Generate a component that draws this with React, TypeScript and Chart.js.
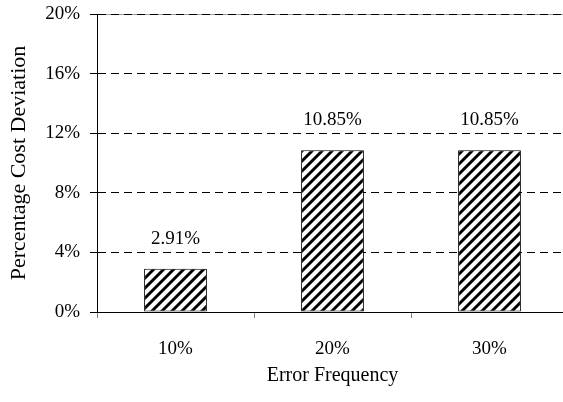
import React, { useEffect, useRef } from "react";
import { Chart, registerables } from "chart.js";

Chart.register(...registerables);

const categories = ["10%", "20%", "30%"];
const values = [2.91, 10.85, 10.85];
const valueLabels = ["2.91%", "10.85%", "10.85%"];
const yTicks = [0, 4, 8, 12, 16, 20];

const FONT = "'Liberation Serif', 'Times New Roman', serif";

function makePattern(): CanvasPattern | string {
  const p = 10;
  const c = document.createElement("canvas");
  c.width = p;
  c.height = p;
  const g = c.getContext("2d");
  if (!g) return "#000";
  const img = g.createImageData(p, p);
  for (let y = 0; y < p; y++) {
    for (let x = 0; x < p; x++) {
      const m = (x + y) % p;
      let v = 255;
      if (m >= 1 && m <= 3) v = 0;
      else if (m === 0 || m === 4) v = 110;
      const i = (y * p + x) * 4;
      img.data[i] = v;
      img.data[i + 1] = v;
      img.data[i + 2] = v;
      img.data[i + 3] = 255;
    }
  }
  g.putImageData(img, 0, 0);
  const pat = g.createPattern(c, "repeat");
  return pat || "#000";
}

const topLinePlugin = {
  id: "topLine",
  beforeDraw(chart: any) {
    const { ctx, chartArea } = chart;
    ctx.save();
    ctx.strokeStyle = "#9a9a9a";
    ctx.lineWidth = 1;
    ctx.beginPath();
    ctx.moveTo(chartArea.left, chartArea.top + 0.5);
    ctx.lineTo(chartArea.right, chartArea.top + 0.5);
    ctx.stroke();
    ctx.restore();
  },
};

const labelPlugin = {
  id: "valueLabels",
  afterDatasetsDraw(chart: any) {
    const { ctx } = chart;
    const meta = chart.getDatasetMeta(0);
    ctx.save();
    ctx.fillStyle = "#000";
    ctx.font = `19px ${FONT}`;
    ctx.textAlign = "center";
    ctx.textBaseline = "middle";
    meta.data.forEach((el: any, i: number) => {
      ctx.fillText(valueLabels[i], el.x, el.y - 30);
    });
    ctx.restore();
  },
};

export default function App() {
  const ref = useRef<HTMLCanvasElement | null>(null);

  useEffect(() => {
    document.body.style.margin = "0";
    const canvas = ref.current;
    if (!canvas) return;
    const chart = new Chart(canvas, {
      type: "bar",
      data: {
        labels: categories,
        datasets: [
          {
            data: values,
            backgroundColor: makePattern() as any,
            borderColor: "#000",
            borderWidth: 1,
            borderSkipped: false,
            barPercentage: 0.4,
            categoryPercentage: 1,
          },
        ],
      },
      options: {
        animation: false,
        responsive: false,
        devicePixelRatio: 1,
        layout: { padding: { top: 14, right: 0, left: 0, bottom: 0 } },
        plugins: {
          legend: { display: false },
          tooltip: { enabled: false },
        },
        scales: {
          x: {
            grid: {
              offset: true,
              drawOnChartArea: false,
              drawTicks: true,
              tickLength: 6,
              color: "#808080",
              tickColor: "#808080",
            },
            border: { color: "#000", width: 1 },
            ticks: {
              color: "#000",
              font: { family: FONT, size: 19 },
              padding: 20,
              maxRotation: 0,
            },
            title: {
              display: true,
              text: "Error Frequency",
              color: "#000",
              font: { family: FONT, size: 20 },
              padding: { top: 0, bottom: 14 },
            },
            afterFit(scale: any) {
              scale.height = 90;
              scale.paddingLeft = 0;
              scale.paddingRight = 0;
            },
          },
          y: {
            min: 0,
            max: 20,
            afterBuildTicks(scale: any) {
              scale.ticks = yTicks.map((v) => ({ value: v }));
            },
            grid: {
              color: (ctx: any) => (ctx.tick && ctx.tick.value === 0 ? "rgba(0,0,0,0)" : "#000"),
              tickColor: "#000",
              tickLength: 7,
              lineWidth: 1,
            },
            border: { color: "#000", width: 1, dash: [8, 5] },
            ticks: {
              color: "#000",
              font: { family: FONT, size: 19 },
              padding: 10,
              callback: (v: any) => `${v}%`,
            },
            title: {
              display: true,
              text: "Percentage Cost Deviation",
              color: "#000",
              font: { family: FONT, size: 22 },
              padding: { top: 6, bottom: 0 },
            },
            afterFit(scale: any) {
              scale.width = 97;
              scale.paddingTop = 0;
              scale.paddingBottom = 0;
            },
          },
        },
      },
      plugins: [topLinePlugin, labelPlugin],
    });
    return () => chart.destroy();
  }, []);

  return (
    <div style={{ position: "absolute", left: 0, top: 0, width: 563, height: 402, overflow: "hidden", background: "#fff" }}>
      <canvas ref={ref} width={568} height={402} style={{ display: "block" }} />
    </div>
  );
}
